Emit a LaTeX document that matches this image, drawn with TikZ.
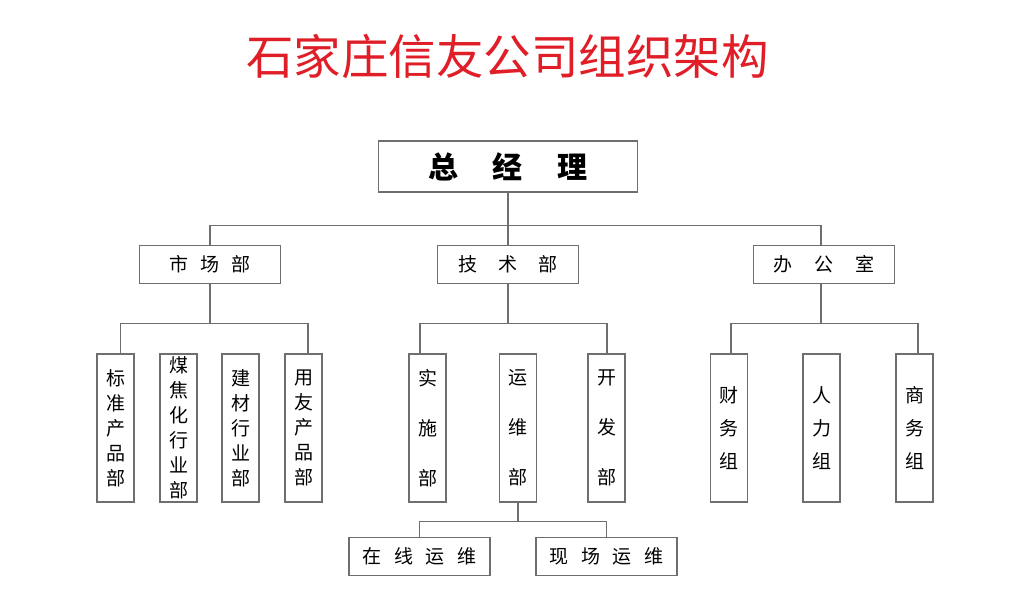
\documentclass[tikz,border=0pt]{standalone}
\usepackage{fontspec}
\newfontfamily\cjk{Noto Sans CJK SC}
\definecolor{titlered}{RGB}{224,30,40}
\definecolor{linegray}{RGB}{110,110,110}
\begin{document}
\begin{tikzpicture}[x=1pt,y=-1pt,
	every node/.style={font=\cjk},
	title/.style={text=titlered,font=\cjk\fontsize{47.5}{57}\selectfont},
	box/.style={draw=linegray,line width=1.1pt,fill=white,inner sep=0pt},
	headbox/.style={box,minimum width=259pt,minimum height=51pt,font=\cjk\bfseries\fontsize{30}{36}\selectfont},
	deptbox/.style={box,minimum width=141pt,minimum height=38pt,font=\cjk\fontsize{19}{23}\selectfont},
	tallbox/.style={box,minimum width=37pt,minimum height=148pt,align=center,font=\cjk\fontsize{19}{25}\selectfont},
	link/.style={draw=linegray,line width=1.1pt}]
	\useasboundingbox (0,0) rectangle (1009,614);
	% title
	\node[title] (title) at (507.5,56) {石家庄信友公司组织架构};
	% top and departments
	\node[headbox] (gm) at (508,166.5) {总\hspace{35pt}经\hspace{35pt}理};
	\node[deptbox] (sc) at (210,264.5) {市\hspace{12pt}场\hspace{12pt}部\hspace{20pt}};
	\node[deptbox] (js) at (508,264.5) {技\hspace{21pt}术\hspace{21pt}部};
	\node[deptbox] (bgs) at (824,264.5) {办\hspace{22pt}公\hspace{22pt}室\hspace{24pt}};
	% market
	\node[tallbox] (bzh) at (115.5,428) {标\\准\\产\\品\\部};
	\node[tallbox] (mjh) at (178.5,428) {煤\\焦\\化\\行\\业\\部};
	\node[tallbox] (jc) at (240.5,428) {建\\材\\行\\业\\部};
	\node[tallbox] (yy) at (303.5,428) {用\\友\\产\\品\\部};
	% tech
	\node[tallbox] (ss) at (427.5,428) {实\\[25pt]施\\[25pt]部};
	\node[tallbox] (yw) at (518,428) {运\\[25pt]维\\[25pt]部};
	\node[tallbox] (kf) at (606.5,428) {开\\[25pt]发\\[25pt]部};
	% office
	\node[tallbox] (cw) at (729,428) {财\\[8pt]务\\[8pt]组};
	\node[tallbox] (rl) at (821.5,428) {人\\[8pt]力\\[8pt]组};
	\node[tallbox] (sw) at (914.5,428) {商\\[8pt]务\\[8pt]组};
	% ops
	\node[deptbox] (zx) at (419.5,556.5) {在\hspace{13pt}线\hspace{13pt}运\hspace{13pt}维\hspace{5pt}};
	\node[deptbox] (xc) at (606.5,556.5) {现\hspace{13pt}场\hspace{13pt}运\hspace{13pt}维\hspace{3pt}};
	% links
	\draw[link] (gm.south) -- ++(0,33) coordinate (gmbus) -- (js.north);
	\draw[link] (sc.north) |- (gmbus) -| ([xshift=-3pt]bgs.north);
	\draw[link] (sc.south) -- ++(0,39) coordinate (scbus);
	\draw[link] ([xshift=5pt]bzh.north) |- (scbus) -| ([xshift=4.5pt]yy.north);
	\draw[link] (js.south) -- ++(0,39) coordinate (jsbus);
	\draw[link] ([xshift=-7.5pt]ss.north) |- (jsbus) -| ([xshift=0.5pt]kf.north);
	\draw[link] ([xshift=-3pt]bgs.south) -- ++(0,39) coordinate (bgsbus);
	\draw[link] ([xshift=2pt]cw.north) |- (bgsbus) -| ([xshift=3.5pt]sw.north);
	\draw[link] (yw.south) -- ++(0,19) coordinate (ywbus);
	\draw[link] (zx.north) |- (ywbus) -| (xc.north);
\end{tikzpicture}
\end{document}
